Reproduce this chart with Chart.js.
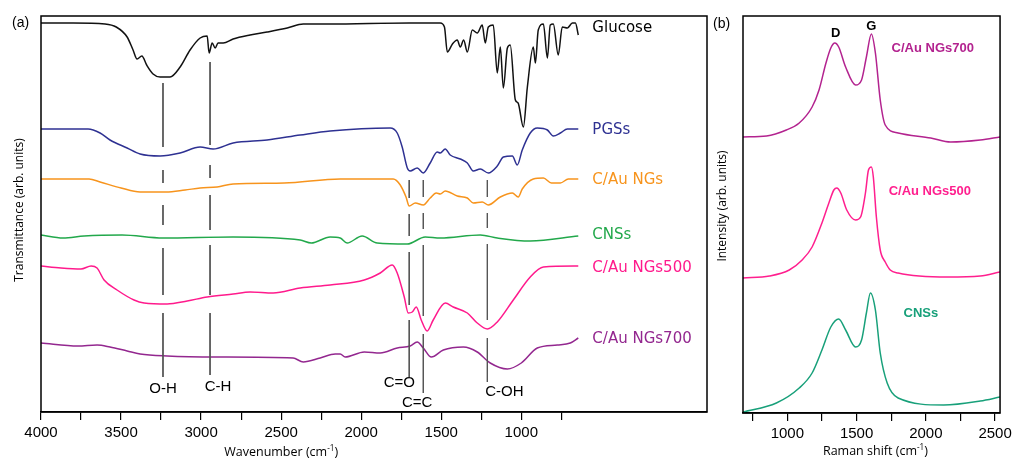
<!DOCTYPE html>
<html>
<head>
<title>FTIR and Raman spectra</title>
<script src="https://cdn.jsdelivr.net/npm/chart.js"></script>
<style>
  body { margin: 0; background: #fff; }
  #ftir { position: absolute; left: 0; top: 0; }
  #raman { position: absolute; left: 712px; top: 0; }
</style>
</head>
<body>
<canvas id="ftir" width="712" height="459"></canvas>
<canvas id="raman" width="304" height="459"></canvas>
<script>
// ---- (a) FTIR: wavenumber (cm-1) vs transmittance (arb. units, offset curves)
const glucoseWn = [4000,3800,3600,3530,3462,3425,3400,3370,3340,3300,3256,3194,3131,3069,3006,2962,2950,2931,2912,2894,2862,2800,2694,2588,2462,2362,2200,1700,1506,1480,1462,1430,1400,1381,1360,1337,1306,1275,1244,1225,1206,1175,1150,1131,1112,1087,1069,1037,1020,987,962,925,912,894,862,837,819,800,769,744,712,681,662,644];
const glucoseT  = [389,389,388,385,375,362,353,356,347,338,335,335,345,362,374,376,359,369,364,369,369,373,377,380,384,388,388,389,389,385,360,368,372,365,372,360,382,379,387,369,385,387,339,365,324,364,367,312,309,285,325,365,349,382,388,354,387,388,357,385,384,389,389,377];

const pgsWn = [4000,3706,3631,3569,3462,3381,3256,3131,3006,2925,2800,2588,2381,2194,1819,1775,1744,1712,1694,1650,1612,1569,1525,1506,1475,1444,1381,1337,1300,1256,1206,1150,1112,1056,1025,994,944,900,837,800,756,712,644];
const pgsT  = [283,283,279,272,264,258,256,259,265,263,269,272,277,281,284,279,265,244,241,244,239,249,260,259,263,257,253,249,241,243,239,246,255,256,247,262,279,284,282,276,279,283,283];

const caunWn = [4000,3700,3631,3500,3381,3219,3100,3006,2900,2800,2481,2131,1800,1756,1720,1700,1662,1612,1569,1531,1506,1475,1400,1337,1300,1244,1206,1131,1056,1019,994,925,862,812,756,706,644];
const caunT  = [233,233,230,224,220,220,222,224,225,228,229,233,233,227,215,206,209,207,214,219,218,221,216,214,209,210,207,215,219,215,223,233,234,229,229,233,233];

const cnsWn = [4000,3862,3731,3494,3238,2800,2381,2312,2194,2131,2088,1994,1900,1712,1600,1506,1256,1150,944,644];
const cnsT  = [177,174,176,177,174,175,172,169,175,174,169,176,169,168,175,174,177,174,171,176];

const c500Wn = [4000,3875,3750,3687,3650,3606,3525,3419,3356,3212,3087,2962,2800,2694,2550,2381,2194,1981,1881,1806,1775,1731,1706,1681,1656,1625,1588,1550,1475,1425,1337,1275,1212,1150,1050,944,862,644];
const c500T  = [146,144,143,146,144,132,122,112,109,108,111,115,118,120,119,124,127,132,139,147,139,115,99,100,105,92,81,92,109,105,99,89,83,90,112,135,145,146];

const c700Wn = [4000,3769,3650,3569,3462,3381,3212,2900,2425,2362,2256,2162,2131,2100,1981,1881,1775,1694,1650,1612,1562,1487,1362,1275,1194,1087,1000,900,775,694,644];
const c700T  = [69,66,67,65,61,58,56,55,54,50,54,58,58,55,60,59,64,66,70,64,55,62,65,60,49,43,49,64,67,69,74];

const ftirNames = ['Glucose','PGSs','C/Au NGs','CNSs','C/Au NGs500','C/Au NGs700'];
const ftirTicks = [4000,3750,3500,3250,3000,2750,2500,2250,2000,1750,1500,1250,1000,750];

// band assignments and the visible pieces of each marker line
const bondNames = ['O-H','C-H','C=O','C=C','C-OH'];
const bondWn = [3238,2944,1700,1612,1212];
const bondSegs = [
  [[329,265],[242,229],[207,187],[164,117],[99,35]],
  [[350,267],[247,234],[217,182],[167,117],[99,37]],
  [[232,214],[198,176],[160,107],[92,35]],
  [[232,215],[199,183],[167,96],[78,19]],
  [[232,215],[199,184],[168,92],[74,30]]
];

// ---- (b) Raman: shift (cm-1) vs intensity (arb. units)
const r700Shift = [680,850,993,1086,1179,1229,1279,1314,1343,1371,1421,1493,1536,1571,1607,1636,1671,1707,1800,2036,2179,2393,2536];
const r700I     = [276,277,283,290,306,323,350,365,370,366,346,328,333,356,379,360,313,288,280,275,271,273,276];
const r500Shift = [680,871,1014,1107,1179,1250,1300,1336,1357,1386,1429,1493,1529,1564,1586,1607,1621,1643,1671,1707,1743,1800,2157,2393,2536];
const r500I     = [135,137,143,153,166,190,210,223,225,220,203,193,196,220,243,246,236,196,163,151,143,140,136,137,141];
const rcnsShift = [680,921,1086,1179,1250,1314,1371,1421,1493,1536,1571,1600,1636,1671,1721,1800,2129,2393,2536];
const rcnsI     = [1,10,25,40,63,86,94,83,66,73,100,120,103,60,30,15,8,12,16];
const ramanNames = ['C/Au NGs700','C/Au NGs500','CNSs'];
const ramanTicks = [750,1000,1250,1500,1750,2000,2250,2500];

const zip = (xs, ys) => xs.map((v, i) => ({x: v, y: ys[i]}));

Chart.defaults.font.family = '"Liberation Sans", Arial, sans-serif';
Chart.defaults.color = '#000';

const ftirColors = ['#111111','#2e3192','#f7941d','#22a84b','#ff1a8c','#93278f'];
const ramanColors = ['#b3238f','#ff1f8e','#18a07a'];

function curve(data, color) {
  return {data: data, borderColor: color, borderWidth: 1.5, pointRadius: 0,
          cubicInterpolationMode: 'monotone', fill: false};
}

function supTitle(ctx, base, sup, tail, cx, cy, size) {
  const f = size + 'px "Open Sans"', fs = (size * 0.65) + 'px "Open Sans"';
  ctx.font = f;
  const w1 = ctx.measureText(base).width, w3 = ctx.measureText(tail).width;
  ctx.font = fs;
  const w2 = ctx.measureText(sup).width;
  let x0 = cx - (w1 + w2 + w3) / 2;
  ctx.textAlign = 'left';
  ctx.textBaseline = 'alphabetic';
  ctx.font = f; ctx.fillText(base, x0, cy);
  ctx.font = fs; ctx.fillText(sup, x0 + w1, cy - size * 0.4);
  ctx.font = f; ctx.fillText(tail, x0 + w1 + w2, cy);
}

function xTicks(list) {
  return {
    afterBuildTicks: s => { s.ticks = list.map(v => ({value: v})); },
    ticks: {autoSkip: false, maxRotation: 0, minRotation: 0, padding: 4,
            font: {size: 15}, color: '#000',
            callback: v => (v % 500 === 0 ? v : '')},
    grid: {display: true, drawOnChartArea: false, drawTicks: true, tickLength: 8,
           color: '#000', lineWidth: 1.2},
    border: {display: true, color: '#000', width: 1.5}
  };
}

// ---- panel (a)
const bondSets = bondWn.map((wn, i) => {
  const pts = [];
  bondSegs[i].forEach(s => { pts.push({x: wn, y: s[0]}, {x: wn, y: s[1]}, {x: wn, y: null}); });
  return {data: pts, borderColor: '#555', borderWidth: 1, pointRadius: 0, spanGaps: false, tension: 0};
});

const ftirLabels = {
  id: 'ftirLabels',
  afterDraw(chart) {
    const {ctx, chartArea: a, scales: {x, y}} = chart;
    ctx.save();
    ctx.strokeStyle = '#000';
    ctx.lineWidth = 1.5;
    ctx.strokeRect(a.left, a.top, a.right - a.left, a.bottom - a.top);

    // curve names
    const nameY = [384, 282, 232, 177, 144, 73];
    ctx.font = '15px "DejaVu Sans"';
    ctx.textAlign = 'left';
    ctx.textBaseline = 'middle';
    ftirNames.forEach((n, i) => {
      ctx.fillStyle = i === 0 ? '#000' : ftirColors[i];
      ctx.fillText(n, x.getPixelForValue(556), y.getPixelForValue(nameY[i]));
    });

    // band labels
    const lblWn = [3238, 2894, 1762, 1650, 1106];
    const lblY = [23, 25, 29, 9, 20];
    ctx.fillStyle = '#000';
    ctx.font = '15px "Liberation Sans"';
    ctx.textAlign = 'center';
    bondNames.forEach((n, i) => {
      ctx.fillText(n, x.getPixelForValue(lblWn[i]), y.getPixelForValue(lblY[i]));
    });

    ctx.font = '14px "Liberation Sans"';
    ctx.textAlign = 'left';
    ctx.fillText('(a)', 12, 23);

    supTitle(ctx, 'Wavenumber (cm', '-1', ')', x.getPixelForValue(2500), 456, 12.5);

    ctx.translate(20, 210);
    ctx.rotate(-Math.PI / 2);
    ctx.font = '12px "Open Sans"';
    ctx.textAlign = 'center';
    ctx.textBaseline = 'middle';
    ctx.fillText('Transmittance (arb. units)', 0, 0);
    ctx.restore();
  }
};

new Chart(document.getElementById('ftir'), {
  type: 'line',
  data: {
    datasets: bondSets.concat([
      curve(zip(glucoseWn, glucoseT), ftirColors[0]),
      curve(zip(pgsWn, pgsT), ftirColors[1]),
      curve(zip(caunWn, caunT), ftirColors[2]),
      curve(zip(cnsWn, cnsT), ftirColors[3]),
      curve(zip(c500Wn, c500T), ftirColors[4]),
      curve(zip(c700Wn, c700T), ftirColors[5])
    ])
  },
  options: {
    responsive: false,
    animation: false,
    layout: {padding: {left: 41, top: 16, right: 5, bottom: 0}},
    plugins: {legend: {display: false}, tooltip: {enabled: false}},
    scales: {
      x: Object.assign({type: 'linear', reverse: true, min: -160, max: 4000,
                        afterFit: s => { s.height = 47; }}, xTicks(ftirTicks)),
      y: {display: false, min: 0, max: 396}
    }
  },
  plugins: [ftirLabels]
});

// ---- panel (b)
const ramanLabels = {
  id: 'ramanLabels',
  afterDraw(chart) {
    const {ctx, chartArea: a, scales: {x, y}} = chart;
    ctx.save();
    ctx.strokeStyle = '#000';
    ctx.lineWidth = 1.5;
    ctx.strokeRect(a.left, a.top, a.right - a.left, a.bottom - a.top);

    ctx.font = 'bold 13px "Liberation Sans"';
    ctx.textAlign = 'center';
    ctx.textBaseline = 'middle';
    const nameX = [2050, 2029, 1964], nameY = [365, 222, 100];
    ramanNames.forEach((n, i) => {
      ctx.fillStyle = ramanColors[i];
      ctx.fillText(n, x.getPixelForValue(nameX[i]), y.getPixelForValue(nameY[i]));
    });
    ctx.fillStyle = '#000';
    ctx.fillText('D', x.getPixelForValue(1350), y.getPixelForValue(380));
    ctx.fillText('G', x.getPixelForValue(1607), y.getPixelForValue(387));

    ctx.font = '14px "Liberation Sans"';
    ctx.textAlign = 'left';
    ctx.fillText('(b)', 1, 24);

    supTitle(ctx, 'Raman shift (cm', '-1', ')', x.getPixelForValue(1636), 455, 12.5);

    ctx.translate(11, 206);
    ctx.rotate(-Math.PI / 2);
    ctx.font = '12px "Open Sans"';
    ctx.textAlign = 'center';
    ctx.textBaseline = 'middle';
    ctx.fillText('Intensity (arb. units)', 0, 0);
    ctx.restore();
  }
};

new Chart(document.getElementById('raman'), {
  type: 'line',
  data: {
    datasets: [
      curve(zip(r700Shift, r700I), ramanColors[0]),
      curve(zip(r500Shift, r500I), ramanColors[1]),
      curve(zip(rcnsShift, rcnsI), ramanColors[2])
    ]
  },
  options: {
    responsive: false,
    animation: false,
    layout: {padding: {left: 31, top: 16, right: 13, bottom: 0}},
    plugins: {legend: {display: false}, tooltip: {enabled: false}},
    scales: {
      x: Object.assign({type: 'linear', min: 680, max: 2536,
                        afterFit: s => { s.height = 46; }}, xTicks(ramanTicks)),
      y: {display: false, min: 0, max: 397}
    }
  },
  plugins: [ramanLabels]
});
</script>
</body>
</html>
